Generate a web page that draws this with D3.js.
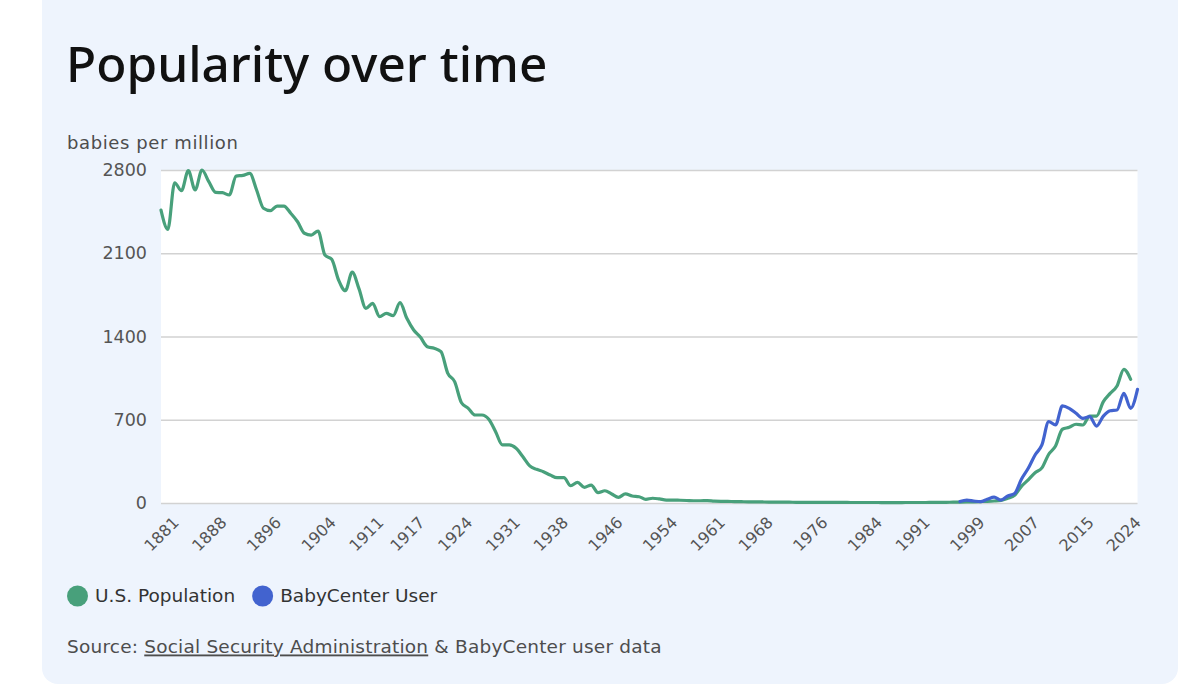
<!DOCTYPE html>
<html>
<head>
<meta charset="utf-8">
<script src="https://cdn.jsdelivr.net/npm/d3@7"></script>
<style>
  html, body { margin: 0; padding: 0; background: #fff; }
  svg { display: block; font-family: "DejaVu Sans", sans-serif; }
</style>
</head>
<body>
<svg id="chart" width="1200" height="694"></svg>
<script>
// babies per million, U.S. population (SSA), one value per year from 1881
const popStartYear = 1881;
const popValues = [
  2463, 2301, 2693, 2626, 2794, 2632, 2800, 2702, 2612,             // 1881-1889
  2609, 2590, 2749, 2755, 2772, 2632, 2478, 2458, 2497, 2497,       // 1890-1899
  2436, 2365, 2268, 2253, 2287, 2085, 2049, 1875, 1785, 1942,       // 1900-1909
  1800, 1637, 1679, 1566, 1595, 1575, 1684, 1553, 1455, 1393,       // 1910-1919
  1314, 1301, 1272, 1090, 1020, 843, 796, 740, 740, 704,            // 1920-1929
  600, 488, 488, 460, 389, 312, 283, 263, 235, 213,                 // 1930-1939
  213, 145, 174, 132, 151, 87, 103, 76, 48, 76,                     // 1940-1949
  59, 53, 31, 40, 34, 25, 25, 23, 21, 19,                           // 1950-1959
  19, 20, 16, 14, 13, 12, 11, 10, 10, 9,                            // 1960-1969
  8, 8, 7, 7, 6, 6, 6, 5, 6, 5,                                     // 1970-1979
  5, 5, 4, 4, 4, 4, 4, 3, 3, 3,                                     // 1980-1989
  4, 4, 4, 4, 5, 5, 6, 7, 8, 9,                                     // 1990-1999
  10, 12, 14, 17, 22, 40, 65, 140, 195, 255,                        // 2000-2009
  295, 410, 479, 620, 636, 662, 656, 731, 731, 852,                 // 2010-2019
  922, 984, 1124, 1040                                              // 2020-2023
];

// BabyCenter users, from 1998
const bcStartYear = 1998;
const bcValues = [
  12, 25, 17, 11, 31, 50, 25, 59, 80, 200,                          // 1998-2007
  292, 404, 488, 684, 656, 816, 796, 754, 712, 726,                 // 2008-2017
  647, 731, 776, 782, 922, 796, 956                                 // 2018-2024
];

const xTickYears = [1881, 1888, 1896, 1904, 1911, 1917, 1924, 1931, 1938, 1946,
                    1954, 1961, 1968, 1976, 1984, 1991, 1999, 2007, 2015, 2024];
const yTicks = [0, 700, 1400, 2100, 2800];

const seriesNames = ["U.S. Population", "BabyCenter User"];
const seriesColors = ["#48a07b", "#4263cf"];

const svg = d3.select("#chart");

// card
svg.append("rect")
  .attr("x", 42).attr("y", -40)
  .attr("width", 1136).attr("height", 724)
  .attr("rx", 16)
  .attr("fill", "#eef4fd");

svg.append("text")
  .attr("x", 66).attr("y", 82)
  .attr("font-family", "Noto Sans, sans-serif")
  .attr("font-size", 49.5)
  .attr("font-weight", 500)
  .attr("fill", "#111")
  .text("Popularity over time");

svg.append("text")
  .attr("x", 67).attr("y", 149)
  .attr("font-size", 18)
  .attr("letter-spacing", 0.6)
  .attr("fill", "#4d4d4d")
  .text("babies per million");

const plot = {left: 161, right: 1137.5, top: 170, bottom: 503};

const x = d3.scaleLinear()
  .domain([popStartYear, 2024])
  .range([plot.left, plot.right]);

const y = d3.scaleLinear()
  .domain([0, 2800])
  .range([plot.bottom, plot.top]);

svg.append("rect")
  .attr("x", plot.left).attr("y", plot.top)
  .attr("width", plot.right - plot.left)
  .attr("height", plot.bottom - plot.top)
  .attr("fill", "#fff");

// y axis with gridlines
const yAxis = svg.append("g")
  .attr("transform", `translate(${plot.left},0)`)
  .call(d3.axisLeft(y).tickValues(yTicks).tickFormat(d3.format("d"))
    .tickSize(-(plot.right - plot.left)).tickPadding(14));
yAxis.select(".domain").remove();
yAxis.selectAll(".tick line").attr("stroke", "#d2d2d2").attr("stroke-width", 1.6);
yAxis.selectAll(".tick text")
  .attr("font-size", 17.5)
  .attr("font-family", "DejaVu Sans, sans-serif")
  .attr("fill", "#555");

// x axis, rotated labels centred on the tick
const xAxis = svg.append("g")
  .attr("transform", `translate(0,${plot.bottom})`)
  .call(d3.axisBottom(x).tickValues(xTickYears).tickFormat(d3.format("d")).tickSize(0));
xAxis.select(".domain").remove();
xAxis.selectAll(".tick text")
  .attr("font-size", 16)
  .attr("font-family", "DejaVu Sans, sans-serif")
  .attr("fill", "#555")
  .attr("dy", "0.35em")
  .attr("y", 0)
  .attr("text-anchor", "middle")
  .attr("transform", function() {
    const half = this.getComputedTextLength() / 2 * Math.SQRT1_2;
    const tickX = d3.select(this.parentNode).datum();
    const over = Math.max(0, x(tickX) + half - plot.right);
    return `translate(${-over},31) rotate(-45)`;
  });

// lines
const popData = popValues.map((v, i) => ({year: popStartYear + i, value: v}));
const bcData = bcValues.map((v, i) => ({year: bcStartYear + i, value: v}));

const line = d3.line()
  .x(d => x(d.year))
  .y(d => y(d.value))
  .curve(d3.curveMonotoneX);

[popData, bcData].forEach((data, i) => {
  svg.append("path")
    .datum(data)
    .attr("fill", "none")
    .attr("stroke", seriesColors[i])
    .attr("stroke-width", 3.2)
    .attr("stroke-linejoin", "round")
    .attr("stroke-linecap", "round")
    .attr("d", line);
});

// legend
const legend = svg.append("g").attr("transform", "translate(67,596)");
let lx = 0;
seriesNames.forEach((name, i) => {
  const g = legend.append("g").attr("transform", `translate(${lx},0)`);
  g.append("circle").attr("cx", 10.5).attr("cy", 0).attr("r", 10.5).attr("fill", seriesColors[i]);
  const t = g.append("text")
    .attr("x", 28).attr("y", 0).attr("dy", "0.35em")
    .attr("font-size", 18.5)
    .attr("fill", "#333")
    .text(name);
  lx += 28 + t.node().getComputedTextLength() + 17;
});

// source line
const src = svg.append("text")
  .attr("x", 67).attr("y", 647).attr("dy", "0.35em")
  .attr("font-size", 18.5)
  .attr("letter-spacing", 0.2)
  .attr("fill", "#4d4d4d");
src.append("tspan").text("Source: ");
src.append("tspan").attr("text-decoration", "underline").text("Social Security Administration");
src.append("tspan").text(" & BabyCenter user data");
</script>
</body>
</html>
